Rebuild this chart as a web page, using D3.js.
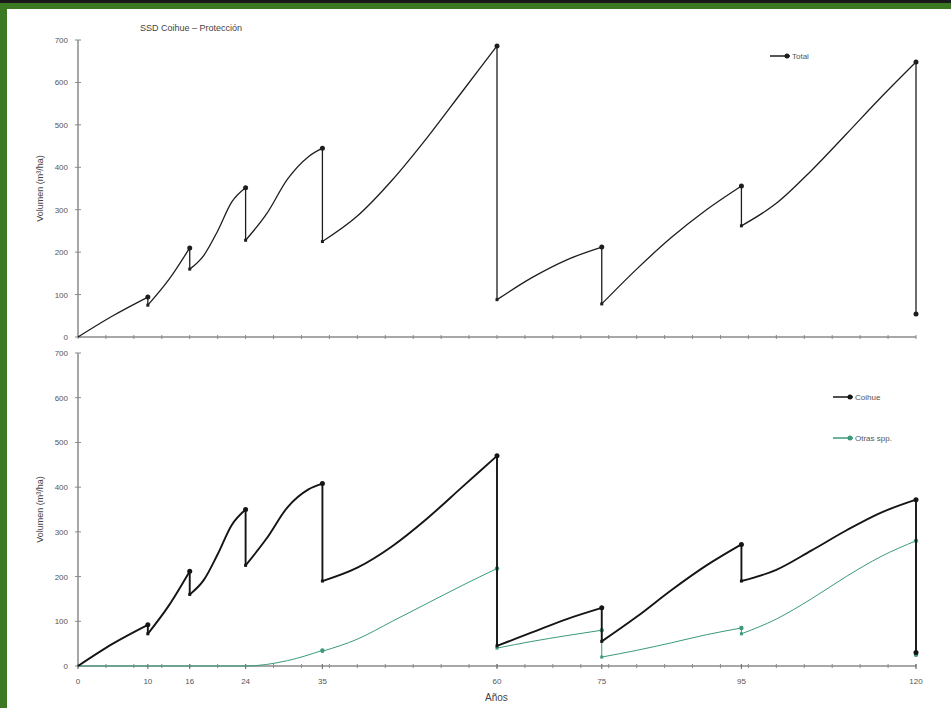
<!DOCTYPE html>
<html>
<head>
<meta charset="utf-8">
<script src="https://cdn.jsdelivr.net/npm/d3@7"></script>
<style>
  html, body { margin: 0; padding: 0; background: #3b7a23; }
  svg { display: block; }
</style>
</head>
<body>
<script>
// Stand ages used as labelled points on the shared x axis
const ageLabels = [0, 10, 16, 24, 35, 60, 75, 95, 120];
const yTicks = [0, 100, 200, 300, 400, 500, 600, 700];

// Total volume (m3/ha): growth segments between thinnings, [age, volume]
const totalSegs = [
  [[0, 0], [5, 50], [10, 94]],
  [[10, 75], [13, 135], [16, 210]],
  [[16, 160], [18, 192], [20, 250], [22, 318], [24, 352]],
  [[24, 228], [27, 290], [30, 372], [33, 425], [35, 445]],
  [[35, 225], [40, 285], [45, 370], [50, 470], [55, 578], [60, 686]],
  [[60, 88], [65, 140], [70, 182], [75, 212]],
  [[75, 78], [80, 160], [85, 235], [90, 300], [95, 356]],
  [[95, 262], [100, 315], [105, 392], [110, 478], [115, 565], [120, 648]],
  [[120, 54]]
];

// Coihue volume
const coihueSegs = [
  [[0, 0], [5, 50], [10, 92]],
  [[10, 72], [13, 135], [16, 212]],
  [[16, 160], [18, 192], [20, 250], [22, 315], [24, 350]],
  [[24, 225], [27, 285], [30, 355], [33, 395], [35, 408]],
  [[35, 190], [40, 220], [45, 268], [50, 330], [55, 400], [60, 470]],
  [[60, 45], [65, 75], [70, 105], [75, 130]],
  [[75, 55], [80, 110], [85, 170], [90, 225], [95, 272]],
  [[95, 190], [100, 215], [105, 258], [110, 303], [115, 343], [120, 372]],
  [[120, 30]]
];

// Other species volume
const otrasSegs = [
  [[0, 0], [10, 0], [16, 0], [24, 0], [30, 12], [35, 35]],
  [[35, 33], [40, 60], [45, 100], [50, 140], [55, 180], [60, 218]],
  [[60, 40], [65, 55], [70, 68], [75, 80]],
  [[75, 20], [80, 35], [85, 52], [90, 70], [95, 85]],
  [[95, 72], [100, 105], [105, 150], [110, 200], [115, 245], [120, 280]],
  [[120, 25]]
];

const W = 951, H = 708;
const svg = d3.select("body").append("svg").attr("width", W).attr("height", H);

// frame: dark rule on top, green band, white sheet
svg.append("rect").attr("x", 0).attr("y", 0).attr("width", W).attr("height", H).attr("fill", "#3b7a23");
svg.append("rect").attr("x", 0).attr("y", 0).attr("width", W).attr("height", 3).attr("fill", "#1a1a1a");
svg.append("rect").attr("x", 7).attr("y", 9).attr("width", W - 7).attr("height", H - 9).attr("fill", "#ffffff");

const font = "'Liberation Sans', Arial, sans-serif";
const x = d3.scaleLinear().domain([0, 120]).range([78, 916]);

const panels = [
  { top: 40, bottom: 337, label: "Volumen (m³/ha)" },
  { top: 353, bottom: 666, label: "Volumen (m³/ha)" }
];

const line = d3.line().x(d => x(d[0])).curve(d3.curveMonotoneX);

function drawAxes(p, y, showX) {
  const g = svg.append("g");
  // y axis
  g.append("line").attr("x1", x(0)).attr("x2", x(0)).attr("y1", y(700)).attr("y2", y(0))
    .attr("stroke", "#8a8a8a").attr("stroke-width", 1.5);
  yTicks.forEach(t => {
    g.append("line").attr("x1", x(0) - 3).attr("x2", x(0) + 3).attr("y1", y(t)).attr("y2", y(t))
      .attr("stroke", "#8a8a8a").attr("stroke-width", 1);
    g.append("text").attr("x", x(0) - 10).attr("y", y(t) + 3).attr("text-anchor", "end")
      .attr("font-family", font).attr("font-size", 8).attr("fill", "#555").text(t);
  });
  // x axis
  g.append("line").attr("x1", x(0)).attr("x2", x(120)).attr("y1", y(0)).attr("y2", y(0))
    .attr("stroke", "#8a8a8a").attr("stroke-width", 1.5);
  d3.range(0, 121, 4).forEach(t => {
    g.append("line").attr("x1", x(t)).attr("x2", x(t)).attr("y1", y(0) - 2).attr("y2", y(0) + 2)
      .attr("stroke", "#8a8a8a").attr("stroke-width", 1);
  });
  if (showX) {
    ageLabels.forEach(t => {
      g.append("line").attr("x1", x(t)).attr("x2", x(t)).attr("y1", y(0) - 2).attr("y2", y(0) + 3)
        .attr("stroke", "#777").attr("stroke-width", 1.2);
      g.append("text").attr("x", x(t)).attr("y", y(0) + 18).attr("text-anchor", "middle")
        .attr("font-family", font).attr("font-size", 8).attr("fill", "#555").text(t);
    });
    g.append("text").attr("x", 485).attr("y", 701)
      .attr("font-family", font).attr("font-size", 10).attr("fill", "#444").text("Años");
  }
  // y label
  const cy = (p.top + p.bottom) / 2;
  g.append("text").attr("transform", `translate(43,${cy}) rotate(-90)`).attr("text-anchor", "middle")
    .attr("font-family", font).attr("font-size", 9).attr("fill", "#444").text(p.label);
}

function drawSeries(segs, y, color, width, peakR) {
  const g = svg.append("g");
  const ln = line.y(d => y(d[1]));
  segs.forEach((s, i) => {
    if (s.length > 1) {
      g.append("path").attr("d", ln(s)).attr("fill", "none")
        .attr("stroke", color).attr("stroke-width", width);
    }
    if (i > 0) {
      const prev = segs[i - 1][segs[i - 1].length - 1];
      g.append("line").attr("x1", x(prev[0])).attr("x2", x(s[0][0]))
        .attr("y1", y(prev[1])).attr("y2", y(s[0][1]))
        .attr("stroke", color).attr("stroke-width", width);
    }
    // markers at segment ends (peaks) and starts
    const end = s[s.length - 1];
    g.append("circle").attr("cx", x(end[0])).attr("cy", y(end[1])).attr("r", peakR).attr("fill", color);
    if (i > 0) {
      g.append("rect").attr("x", x(s[0][0]) - 1.5).attr("y", y(s[0][1]) - 1.5)
        .attr("width", 3).attr("height", 3).attr("fill", color);
    }
  });
}

function legend(lx, ly, color, label) {
  svg.append("line").attr("x1", lx).attr("x2", lx + 20).attr("y1", ly).attr("y2", ly)
    .attr("stroke", color).attr("stroke-width", 1.5);
  svg.append("circle").attr("cx", lx + 17).attr("cy", ly).attr("r", 2.5).attr("fill", color);
  svg.append("text").attr("x", lx + 22).attr("y", ly + 3)
    .attr("font-family", font).attr("font-size", 8).attr("fill", "#555").text(label);
}

// upper panel: total volume
const y1 = d3.scaleLinear().domain([0, 700]).range([panels[0].bottom, panels[0].top]);
drawAxes(panels[0], y1, false);
drawSeries(totalSegs, y1, "#1e1e1e", 1.3, 2.5);
legend(770, 56, "#1e1e1e", "Total");

svg.append("text").attr("x", 140).attr("y", 31)
  .attr("font-family", font).attr("font-size", 9).attr("fill", "#444").text("SSD Coihue – Protección");

// lower panel: by species
const y2 = d3.scaleLinear().domain([0, 700]).range([panels[1].bottom, panels[1].top]);
drawAxes(panels[1], y2, true);
drawSeries(otrasSegs, y2, "#3a9a7a", 1, 2.2);
drawSeries(coihueSegs, y2, "#151515", 1.9, 2.5);
legend(833, 397, "#151515", "Coihue");
legend(833, 438, "#3a9a7a", "Otras spp.");
</script>
</body>
</html>
